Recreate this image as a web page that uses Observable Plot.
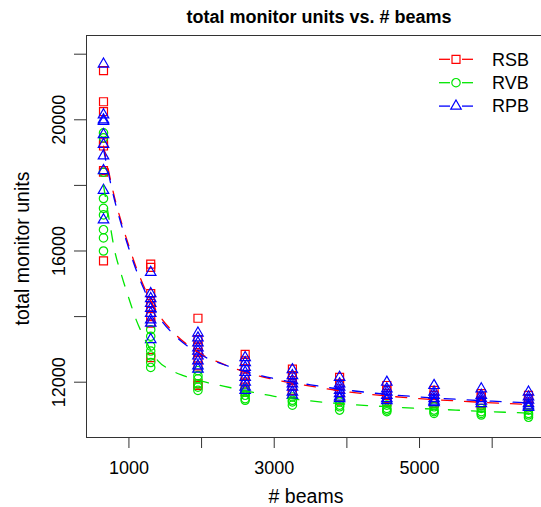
<!DOCTYPE html>
<html><head><meta charset="utf-8">
<script src="https://cdn.jsdelivr.net/npm/d3@7"></script>
<script src="https://cdn.jsdelivr.net/npm/@observablehq/plot@0.6"></script>
<style>
html,body{margin:0;padding:0;background:#fff;overflow:hidden;width:541px;height:507px}
</style></head><body><div id="chart"></div>
<script>
// ---- data ----
const beams = [650, 1300, 1950, 2600, 3250, 3900, 4550, 5200, 5850, 6500];
const series = ["RSB", "RVB", "RPB"];
const colors = ["#ff0000", "#00e600", "#0000ff"];
const symbols = ["square", "circle", "triangle"];

const rsb = [
  [21500, 20550, 20250, 19300, 19200, 18450, 18400, 15700],
  [15600, 15500, 14700, 14400, 14300, 14000, 13800, 12750],
  [13950, 13300, 13100, 12900, 12700, 12500, 11950, 11900],
  [12850, 12650, 12400, 12200, 12000, 11850, 11700],
  [12400, 12200, 12050, 11900, 11750, 11650],
  [12150, 11950, 11800, 11650, 11550, 11450],
  [11900, 11750, 11600, 11500, 11400],
  [11750, 11600, 11500, 11400, 11350],
  [11650, 11550, 11450, 11350, 11300],
  [11600, 11500, 11400, 11300, 11250]
];
const rvb = [
  [19600, 19450, 18400, 17600, 17300, 17100, 16650, 16400, 16000],
  [13600, 13400, 13100, 12950, 12800, 12600, 12450],
  [12350, 12200, 12100, 11950, 11850, 11750],
  [11800, 11700, 11600, 11500, 11450],
  [11550, 11450, 11400, 11300],
  [11400, 11300, 11250, 11150],
  [11300, 11200, 11150, 11100],
  [11250, 11150, 11100, 11050],
  [11200, 11100, 11050, 11000],
  [11150, 11050, 11000, 10930]
];
const rpb = [
  [21700, 20150, 20000, 19950, 19550, 19250, 18900, 18450, 17850, 16950],
  [15350, 14700, 14550, 14400, 14250, 14100, 13900, 13800, 13300],
  [13500, 13350, 13200, 13050, 12950, 12800, 12650, 12500, 12400],
  [12750, 12600, 12450, 12300, 12150, 12000, 11850, 11750],
  [12380, 12200, 12050, 11950, 11850, 11700, 11600],
  [12150, 11950, 11850, 11750, 11650, 11550, 11500],
  [12000, 11800, 11700, 11600, 11500, 11440],
  [11900, 11700, 11600, 11500, 11420, 11380],
  [11800, 11600, 11500, 11420, 11350],
  [11700, 11550, 11450, 11350, 11280, 11230]
];

// fitted curves
const fitX   = [650, 800, 900, 1000, 1100, 1200, 1400, 1600, 1800, 2000, 2300, 2600, 3000, 3500, 4000, 4500, 5000, 5500, 6000, 6500];
const fitRSB = [19200, 17650, 16850, 16150, 15500, 14950, 14100, 13550, 13150, 12850, 12550, 12310, 12080, 11880, 11710, 11590, 11500, 11430, 11370, 11320];
const fitRPB = [19100, 17570, 16770, 16070, 15420, 14870, 14030, 13490, 13110, 12820, 12540, 12330, 12110, 11920, 11760, 11640, 11550, 11480, 11420, 11370];
const fitXG  = [650, 740, 800, 900, 1000, 1100, 1200, 1300, 1400, 1550, 1750, 2000, 2300, 2600, 3000, 3500, 4000, 4500, 5000, 5500, 6000, 6500];
const fitRVB = [18000, 16800, 16050, 15250, 14550, 13900, 13400, 12980, 12650, 12400, 12200, 12030, 11880, 11740, 11570, 11430, 11330, 11260, 11200, 11150, 11100, 11060];

const xTicks = [1000, 2000, 3000, 4000, 5000, 6000];
const xLabeled = [1000, 3000, 5000];
const yTicks = [12000, 14000, 16000, 18000, 20000, 22000];
const yLabeled = [12000, 16000, 20000];

const title = "total monitor units vs. # beams";
const xTitle = "# beams";
const yTitle = "total monitor units";

// ---- build tables ----
function rows(name, cols) {
  const out = [];
  cols.forEach((vals, i) => vals.forEach(v => out.push({series: name, beams: beams[i], mu: v})));
  return out;
}
const pts = [rows("RSB", rsb), rows("RVB", rvb), rows("RPB", rpb)];
const fits = [
  fitX.map((x, i) => ({series: "RSB", beams: x, mu: fitRSB[i]})),
  fitXG.map((x, i) => ({series: "RVB", beams: x, mu: fitRVB[i]})),
  fitX.map((x, i) => ({series: "RPB", beams: x, mu: fitRPB[i]}))
];
const radii = [4.5, 4.2, 3.9];

const FONT = "'Liberation Sans', Arial, Helvetica, sans-serif";

function legend(index, scales, values, dims) {
  const right = dims.width - dims.marginRight;
  const top = dims.marginTop;
  const g = d3.create("svg:g").attr("font-family", FONT).attr("font-size", 18).attr("text-anchor", "start");
  series.forEach((s, i) => {
    const cy = top + 24.3 + i * 23.4;
    const cx = right - 89;
    [[-17, -6], [6, 17]].forEach(([a, b]) =>
      g.append("line").attr("x1", cx + a).attr("x2", cx + b).attr("y1", cy).attr("y2", cy)
        .attr("stroke", colors[i]).attr("stroke-width", 1.3));
    const sym = [d3.symbolSquare, d3.symbolCircle, d3.symbolTriangle][i];
    g.append("path").attr("d", d3.symbol(sym, Math.PI * radii[i] * radii[i])())
      .attr("transform", `translate(${cx},${cy})`)
      .attr("fill", "none").attr("stroke", colors[i]).attr("stroke-width", 1.2);
    g.append("text").attr("x", right - 53).attr("y", cy).attr("dy", "0.35em")
      .attr("text-anchor", "start").attr("fill", "#000").text(s);
  });
  return g.node();
}

const chart = Plot.plot({
  width: 545,
  height: 507,
  marginLeft: 86,
  marginRight: 0,
  marginTop: 35,
  marginBottom: 70,
  style: {fontFamily: FONT, fontSize: "18px", background: "#fff", color: "#000", overflow: "visible", maxWidth: "none"},
  x: {domain: [416, 6734]},
  y: {domain: [10314, 22570]},
  color: {domain: series, range: colors},
  symbol: {domain: series, range: symbols},
  marks: [
    Plot.frame({stroke: "#333", strokeWidth: 1}),
    Plot.axisX({ticks: xTicks, tickSize: 11, tickPadding: 13, stroke: "#333", fontSize: 18,
      tickFormat: d => xLabeled.includes(d) ? String(d) : "", label: null}),
    Plot.axisY({ticks: yTicks, tickSize: 12, stroke: "#333", tickFormat: () => "", label: null}),
    Plot.text(yLabeled, {y: d => d, text: d => String(d), frameAnchor: "left", dx: -27, rotate: -90,
      textAnchor: "middle", lineAnchor: "middle", fontSize: 18, fill: "#000"}),
    ...pts.map((p, i) => Plot.dot(p, {x: "beams", y: "mu", symbol: "series", stroke: "series",
      fill: "none", r: radii[i], strokeWidth: 1.2})),
    ...fits.map(f => Plot.line(f, {x: "beams", y: "mu", stroke: "series", strokeWidth: 1.3,
      strokeDasharray: "11,12", curve: "monotone-x"})),
    Plot.text([title], {frameAnchor: "top", dx: 3, dy: -17.8, fontWeight: "bold", fontSize: 18,
      textAnchor: "middle", lineAnchor: "middle", fill: "#000"}),
    Plot.text([xTitle], {frameAnchor: "bottom", dx: -10, dy: 59.3, fontSize: 19.5, textAnchor: "middle",
      lineAnchor: "middle", fill: "#000"}),
    Plot.text([yTitle], {frameAnchor: "left", dx: -64, dy: 12, rotate: -90, fontSize: 19.5, textAnchor: "middle",
      lineAnchor: "middle", fill: "#000"}),
    legend
  ]
});
document.getElementById("chart").appendChild(chart);
</script></body></html>
